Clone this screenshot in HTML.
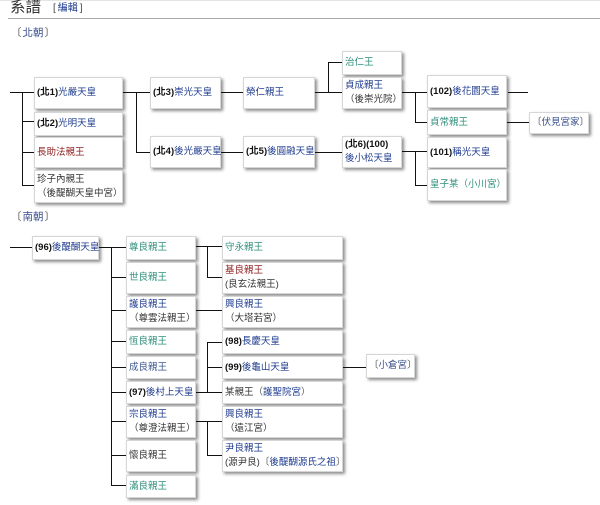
<!DOCTYPE html>
<html><head><meta charset="utf-8">
<style>
html,body{margin:0;padding:0;background:#fff;}
body{width:600px;height:505px;position:relative;overflow:hidden;font-family:"Liberation Sans","Noto Sans CJK TC","Noto Sans CJK SC",sans-serif;font-size:9.5px;color:#333;}
.b{position:absolute;box-sizing:border-box;background:#fff;border:1px solid #d6d6d6;box-shadow:2px 2px 3px #8c8c8c;display:flex;flex-direction:column;justify-content:center;padding-left:2px;line-height:14px;white-space:nowrap;}
.b b{color:#111;font-weight:bold;}
.bl{color:#1f3c8f;}
.tl{color:#2f8f7c;}
.rd{color:#8e1f1f;}
.dk{color:#333;}
.gr{color:#555;}
.h{position:absolute;height:1px;background:#111;}
.v{position:absolute;width:1px;background:#111;}
.t{position:absolute;white-space:nowrap;}
</style></head><body>
<div style="position:absolute;left:0;top:0;width:600px;height:1px;background:#e4e4e4"></div>
<div class="t" style="left:10px;top:-1px;font-size:15.5px;color:#333;line-height:18px;">系譜</div>
<div class="t" style="left:53px;top:3px;font-size:10px;color:#444;line-height:12px;">[<span class="bl" style="margin:0 2px">編輯</span>]</div>
<div style="position:absolute;left:8px;top:18px;width:592px;height:1px;background:#a8a8a8"></div>

<div class="t gr" style="left:11px;top:26px;line-height:14px;font-size:10.5px;">〔<span style="color:#3a4f8a;margin:0 1px">北朝</span>〕</div>

<!-- north boxes -->
<div class="b" style="left:34px;top:77px;width:89px;height:32px"><div><b>(北1)</b><span class="bl">光嚴天皇</span></div></div>
<div class="b" style="left:34px;top:112px;width:89px;height:24px"><div><b>(北2)</b><span class="bl">光明天皇</span></div></div>
<div class="b" style="left:34px;top:137px;width:89px;height:31px"><div class="rd">長助法親王</div></div>
<div class="b" style="left:34px;top:170px;width:89px;height:33px"><div class="dk">珍子內親王</div><div class="dk">（後醍醐天皇中宮）</div></div>

<div class="b" style="left:150px;top:77px;width:71px;height:32px"><div><b>(北3)</b><span class="bl">崇光天皇</span></div></div>
<div class="b" style="left:150px;top:136px;width:71px;height:32px"><div><b>(北4)</b><span class="bl">後光嚴天皇</span></div></div>

<div class="b" style="left:243px;top:77px;width:72px;height:32px"><div class="bl">榮仁親王</div></div>
<div class="b" style="left:243px;top:136px;width:72px;height:32px"><div><b>(北5)</b><span class="bl">後圓融天皇</span></div></div>

<div class="b" style="left:342px;top:51px;width:60px;height:24px"><div class="tl">治仁王</div></div>
<div class="b" style="left:342px;top:77px;width:60px;height:32px"><div class="bl">貞成親王</div><div class="dk">（後崇光院）</div></div>
<div class="b" style="left:342px;top:136px;width:60px;height:32px"><div><b>(北6)(100)</b></div><div class="bl">後小松天皇</div></div>

<div class="b" style="left:427px;top:75px;width:80px;height:33px"><div><b>(102)</b><span class="bl">後花園天皇</span></div></div>
<div class="b" style="left:427px;top:110px;width:80px;height:25px"><div class="tl">貞常親王</div></div>
<div class="b" style="left:427px;top:137px;width:80px;height:31px"><div><b>(101)</b><span class="bl">稱光天皇</span></div></div>
<div class="b" style="left:427px;top:169px;width:80px;height:32px"><div class="tl">皇子某（小川宮）</div></div>

<div class="b" style="left:529px;top:112px;width:60px;height:22px"><div class="gr">〔<span style="color:#3a4f8a">伏見宮家</span>〕</div></div>

<!-- north connectors -->
<div class="h" style="left:10px;top:92px;width:24px"></div>
<div class="v" style="left:22px;top:92px;height:93px"></div>
<div class="h" style="left:22px;top:121px;width:12px"></div>
<div class="h" style="left:22px;top:152px;width:12px"></div>
<div class="h" style="left:22px;top:185px;width:12px"></div>

<div class="h" style="left:123px;top:92px;width:27px"></div>
<div class="v" style="left:136px;top:92px;height:61px"></div>
<div class="h" style="left:136px;top:152px;width:14px"></div>

<div class="h" style="left:221px;top:92px;width:22px"></div>
<div class="h" style="left:221px;top:152px;width:22px"></div>

<div class="h" style="left:315px;top:92px;width:27px"></div>
<div class="v" style="left:328px;top:62px;height:31px"></div>
<div class="h" style="left:328px;top:62px;width:14px"></div>

<div class="h" style="left:402px;top:92px;width:25px"></div>
<div class="v" style="left:415px;top:92px;height:31px"></div>
<div class="h" style="left:415px;top:122px;width:12px"></div>

<div class="h" style="left:315px;top:152px;width:27px"></div>
<div class="h" style="left:402px;top:151px;width:25px"></div>
<div class="v" style="left:415px;top:151px;height:35px"></div>
<div class="h" style="left:415px;top:185px;width:12px"></div>

<div class="h" style="left:508px;top:92px;width:20px"></div>
<div class="h" style="left:507px;top:122px;width:22px"></div>

<!-- south -->
<div class="t gr" style="left:11px;top:210px;line-height:14px;font-size:10.5px;">〔<span style="color:#3a4f8a;margin:0 1px">南朝</span>〕</div>

<div class="b" style="left:32px;top:236px;width:67px;height:24px"><div><b>(96)</b><span class="bl">後醍醐天皇</span></div></div>

<div class="b" style="left:126px;top:236px;width:70px;height:24px"><div class="tl">尊良親王</div></div>
<div class="b" style="left:126px;top:262px;width:70px;height:32px"><div class="tl">世良親王</div></div>
<div class="b" style="left:126px;top:296px;width:70px;height:32px"><div class="bl">護良親王</div><div class="dk">（尊雲法親王）</div></div>
<div class="b" style="left:126px;top:330px;width:70px;height:24px"><div class="tl">恆良親王</div></div>
<div class="b" style="left:126px;top:356px;width:70px;height:23px"><div class="bl" style="color:#3c5592">成良親王</div></div>
<div class="b" style="left:126px;top:381px;width:70px;height:23px"><div><b>(97)</b><span class="bl">後村上天皇</span></div></div>
<div class="b" style="left:126px;top:406px;width:70px;height:32px"><div class="bl">宗良親王</div><div class="dk">（尊澄法親王）</div></div>
<div class="b" style="left:126px;top:440px;width:70px;height:32px"><div class="dk">懷良親王</div></div>
<div class="b" style="left:126px;top:475px;width:70px;height:23px"><div class="tl">滿良親王</div></div>

<div class="b" style="left:222px;top:236px;width:121px;height:24px"><div class="tl">守永親王</div></div>
<div class="b" style="left:222px;top:262px;width:121px;height:32px"><div class="rd">基良親王</div><div class="dk">(良玄法親王)</div></div>
<div class="b" style="left:222px;top:296px;width:121px;height:32px"><div class="bl">興良親王</div><div class="dk">（大塔若宮）</div></div>
<div class="b" style="left:222px;top:330px;width:121px;height:24px"><div><b>(98)</b><span class="bl">長慶天皇</span></div></div>
<div class="b" style="left:222px;top:356px;width:121px;height:23px"><div><b>(99)</b><span class="bl">後龜山天皇</span></div></div>
<div class="b" style="left:222px;top:381px;width:121px;height:23px"><div class="dk">某親王<span class="gr">（</span><span class="bl">護聖院宮</span><span class="gr">）</span></div></div>
<div class="b" style="left:222px;top:406px;width:121px;height:32px"><div class="bl">興良親王</div><div class="dk">（遠江宮）</div></div>
<div class="b" style="left:222px;top:440px;width:121px;height:32px"><div class="bl">尹良親王</div><div class="dk">(源尹良)<span class="gr">〔</span><span class="bl">後醍醐源氏之祖</span><span class="gr">〕</span></div></div>

<div class="b" style="left:366px;top:354px;width:49px;height:24px"><div class="gr">〔<span style="color:#3a4f8a">小倉宮</span>〕</div></div>

<!-- south connectors -->
<div class="h" style="left:10px;top:247px;width:22px"></div>
<div class="h" style="left:99px;top:247px;width:27px"></div>
<div class="v" style="left:111px;top:247px;height:239px"></div>
<div class="h" style="left:111px;top:277px;width:15px"></div>
<div class="h" style="left:111px;top:310px;width:15px"></div>
<div class="h" style="left:111px;top:341px;width:15px"></div>
<div class="h" style="left:111px;top:367px;width:15px"></div>
<div class="h" style="left:111px;top:392px;width:15px"></div>
<div class="h" style="left:111px;top:421px;width:15px"></div>
<div class="h" style="left:111px;top:455px;width:15px"></div>
<div class="h" style="left:111px;top:485px;width:15px"></div>

<div class="h" style="left:196px;top:246px;width:26px"></div>
<div class="v" style="left:207px;top:246px;height:32px"></div>
<div class="h" style="left:207px;top:277px;width:15px"></div>

<div class="h" style="left:196px;top:310px;width:26px"></div>

<div class="v" style="left:207px;top:342px;height:51px"></div>
<div class="h" style="left:207px;top:342px;width:15px"></div>
<div class="h" style="left:207px;top:367px;width:15px"></div>
<div class="h" style="left:196px;top:392px;width:26px"></div>

<div class="h" style="left:196px;top:421px;width:26px"></div>
<div class="v" style="left:207px;top:421px;height:35px"></div>
<div class="h" style="left:207px;top:455px;width:15px"></div>

<div class="h" style="left:343px;top:367px;width:23px"></div>
</body></html>
